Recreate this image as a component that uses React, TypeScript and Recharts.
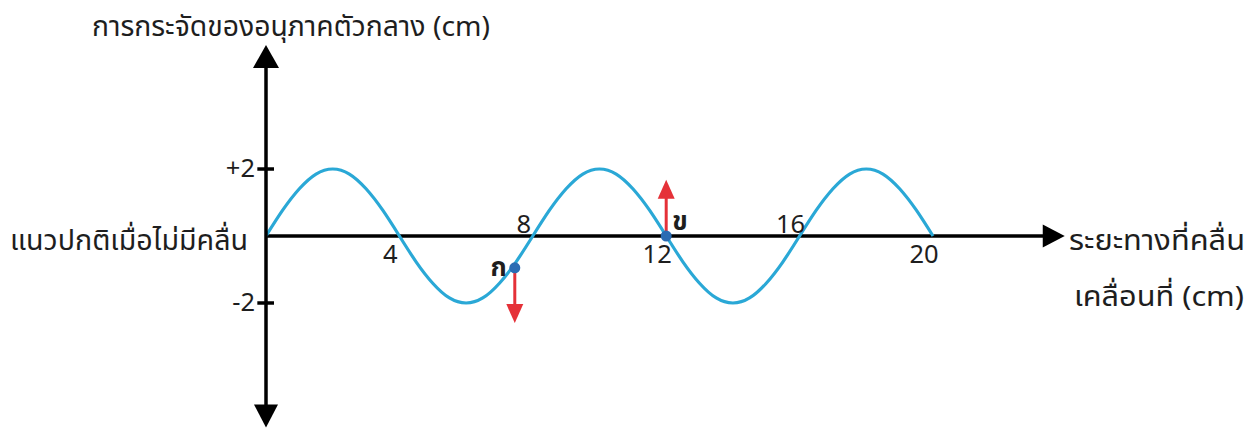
import React from 'react';
import { LineChart, Line, XAxis, YAxis, ReferenceLine, ReferenceDot } from 'recharts';

// wave: displacement (cm) vs distance (cm)
const waveX = [0, 0.5, 1, 1.5, 2, 2.5, 3, 3.5, 4, 4.5, 5, 5.5, 6, 6.5, 7, 7.5, 8, 8.5, 9, 9.5, 10, 10.5, 11, 11.5, 12, 12.5, 13, 13.5, 14, 14.5, 15, 15.5, 16, 16.5, 17, 17.5, 18, 18.5, 19, 19.5, 20];
const waveY = [0, 0.77, 1.41, 1.85, 2, 1.85, 1.41, 0.77, 0, -0.77, -1.41, -1.85, -2, -1.85, -1.41, -0.77, 0, 0.77, 1.41, 1.85, 2, 1.85, 1.41, 0.77, 0, -0.77, -1.41, -1.85, -2, -1.85, -1.41, -0.77, 0, 0.77, 1.41, 1.85, 2, 1.85, 1.41, 0.77, 0];

const xTickValues = [4, 8, 12, 16, 20];
const xTickLabels = ['4', '8', '12', '16', '20'];
const yTickValues = [2, -2];
const yTickLabels = ['+2', '-2'];

// particles: ก moving down, ข moving up
const particleNames = ['ก', 'ข'];
const particleX = [7.46, 12];
const particleY = [-0.95, 0];
const arrowTipY = [-2.6, 1.68];

const titleY = 'การกระจัดของอนุภาคตัวกลาง (cm)';
const labelRest = 'แนวปกติเมื่อไม่มีคลื่น';
const labelXLine1 = 'ระยะทางที่คลื่น';
const labelXLine2 = 'เคลื่อนที่ (cm)';

const data = waveX.map((x, i) => ({ x, y: waveY[i] }));

const FONT = "'Noto Sans Thai', 'Noto Sans Thai UI', Loma, Garuda, 'Tlwg Typo', 'Noto Sans', 'DejaVu Sans', sans-serif";
const WAVE = '#2aa8d6';
const RED = '#e53138';
const DOT = '#2b6cb3';
const TXT = '#1e1e1e';

const arrowHead = (x: number, y: number, dx: number, dy: number, len: number, half: number, fill: string, key: string) => {
  const bx = x - dx * len;
  const by = y - dy * len;
  const px = -dy * half;
  const py = dx * half;
  return <polygon key={key} points={`${x},${y} ${bx + px},${by + py} ${bx - px},${by - py}`} fill={fill} />;
};

const VertAxisShape = (p: any) => {
  const { x1, y1, x2, y2 } = p;
  const top = Math.min(y1, y2);
  const bot = Math.max(y1, y2);
  return (
    <g>
      <line x1={x1} x2={x2} y1={top + 18} y2={bot - 18} stroke="#000" strokeWidth={3.5} />
      {arrowHead(x1, top, 0, -1, 23, 13, '#000', 't')}
      {arrowHead(x1, bot, 0, 1, 23, 12, '#000', 'b')}
    </g>
  );
};

const HorizAxisShape = (p: any) => {
  const { x1, y1, x2 } = p;
  const l = Math.min(x1, x2);
  const r = Math.max(x1, x2);
  return (
    <g>
      <line x1={l} x2={r - 18} y1={y1} y2={y1} stroke="#000" strokeWidth={3.5} />
      {arrowHead(r, y1, 1, 0, 22, 11.5, '#000', 'r')}
    </g>
  );
};

const TickShape = (p: any) => {
  const { x1, y1, x2, y2 } = p;
  return <line x1={x1} x2={x2} y1={y1} y2={y2} stroke="#000" strokeWidth={3.5} />;
};

const RedArrowShape = (p: any) => {
  const { x1, y1, x2, y2 } = p;
  const dir = y2 > y1 ? 1 : -1;
  return (
    <g>
      <line x1={x1} x2={x2} y1={y1} y2={y2 - dir * 16} stroke={RED} strokeWidth={3} />
      {arrowHead(x2, y2, 0, dir, 19, 8.5, RED, 'h')}
    </g>
  );
};

const makeXTickShape = (label: string, idx: number) => (p: any) => {
  const above = idx % 2 === 1;
  return (
    <text x={p.cx - 9} y={above ? p.cy - 11 : p.cy + 19} textAnchor="middle" dominantBaseline="central" fontFamily={FONT} fontSize={25.5} fill={TXT}>
      {label}
    </text>
  );
};

const makeYTickShape = (label: string) => (p: any) => (
  <text x={p.cx - 11} y={p.cy} textAnchor="end" dominantBaseline="central" fontFamily={FONT} fontSize={25.5} fill={TXT}>
    {label}
  </text>
);

const makeParticleShape = (name: string, idx: number) => (p: any) => (
  <g>
    <circle cx={p.cx} cy={p.cy} r={5.5} fill={DOT} />
    {idx === 0 ? (
      <text x={p.cx - 8} y={p.cy} textAnchor="end" dominantBaseline="central" fontFamily={FONT} fontSize={26} fontWeight="bold" fill={TXT}>{name}</text>
    ) : (
      <text x={p.cx + 6} y={p.cy - 14} textAnchor="start" dominantBaseline="central" fontFamily={FONT} fontSize={26} fontWeight="bold" fill={TXT}>{name}</text>
    )}
  </g>
);

export default function App() {
  return (
    <div style={{ position: 'absolute', left: 0, top: 0, width: 1253, height: 428, background: '#fff' }}>
      <LineChart
        width={1253}
        height={428}
        data={data}
        margin={{ top: 43.4, right: 186.6, bottom: 0.4, left: 266 }}
      >
        <XAxis type="number" dataKey="x" domain={[0, 24]} hide />
        <YAxis type="number" domain={[-5.72, 5.75]} hide />
        <ReferenceLine segment={[{ x: 0, y: 0 }, { x: 23.95, y: 0 }]} ifOverflow="visible" shape={HorizAxisShape} />
        <Line type="natural" dataKey="y" stroke={WAVE} strokeWidth={3.2} dot={false} isAnimationActive={false} />
        <ReferenceLine segment={[{ x: 0, y: -5.72 }, { x: 0, y: 5.7 }]} ifOverflow="visible" shape={VertAxisShape} />
        {yTickValues.map((v) => (
          <ReferenceLine key={`yt${v}`} segment={[{ x: -0.26, y: v }, { x: 0.24, y: v }]} ifOverflow="visible" shape={TickShape} />
        ))}
        {yTickValues.map((v, i) => (
          <ReferenceDot key={`yl${v}`} x={0} y={v} r={1} ifOverflow="visible" shape={makeYTickShape(yTickLabels[i])} />
        ))}
        {xTickValues.map((v, i) => (
          <ReferenceDot key={`xl${v}`} x={v} y={0} r={1} ifOverflow="visible" shape={makeXTickShape(xTickLabels[i], i)} />
        ))}
        {particleNames.map((n, i) => (
          <ReferenceLine key={`ar${i}`} segment={[{ x: particleX[i], y: particleY[i] }, { x: particleX[i], y: arrowTipY[i] }]} ifOverflow="visible" shape={RedArrowShape} />
        ))}
        {particleNames.map((n, i) => (
          <ReferenceDot key={`pt${i}`} x={particleX[i]} y={particleY[i]} r={5} ifOverflow="visible" shape={makeParticleShape(n, i)} />
        ))}
      </LineChart>
      <svg width={1253} height={428} style={{ position: 'absolute', left: 0, top: 0, pointerEvents: 'none' }}>
        <text x={92} y={36} fontFamily={FONT} fontSize={28} fill={TXT} textLength={398} lengthAdjust="spacingAndGlyphs">{titleY}</text>
        <text x={10} y={250} fontFamily={FONT} fontSize={28} fill={TXT} textLength={238} lengthAdjust="spacingAndGlyphs">{labelRest}</text>
        <text x={1069} y={250} fontFamily={FONT} fontSize={28} fill={TXT} textLength={176} lengthAdjust="spacingAndGlyphs">{labelXLine1}</text>
        <text x={1074} y={306} fontFamily={FONT} fontSize={28} fill={TXT} textLength={170} lengthAdjust="spacingAndGlyphs">{labelXLine2}</text>
      </svg>
    </div>
  );
}
